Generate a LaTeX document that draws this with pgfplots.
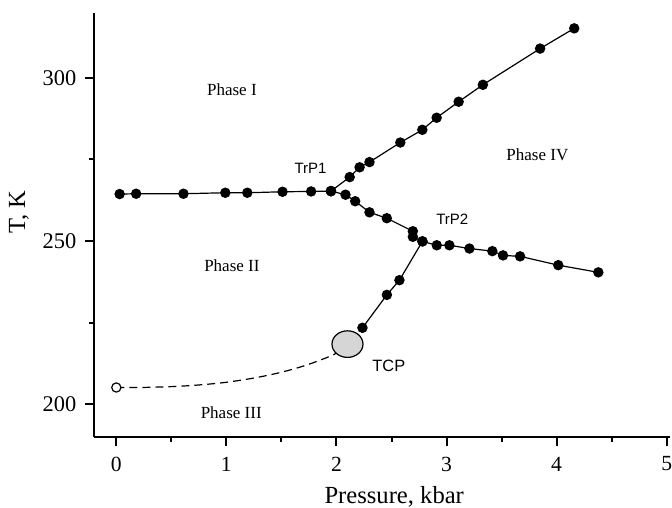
\documentclass[border=0pt]{standalone}
\usepackage{pgfplots}
\pgfplotsset{compat=1.18}
\usepackage{fontspec}
\setmainfont{Liberation Serif}
\newfontfamily\arial{Liberation Sans}

\begin{document}
\begin{tikzpicture}
\begin{axis}[
  scale only axis, width=287.8pt, height=212pt,
  xmin=-0.2, xmax=5.03, ymin=190, ymax=320,
  axis lines=left, axis line style={-, line width=1pt},
  xtick={0,1,2,3,4,5}, ytick={200,250,300},
  xticklabels={0,1,2,3,4,5}, yticklabels={200,250,300},
  minor x tick num=1, minor y tick num=1,
  tick align=outside, major tick length=4.5pt, minor tick length=2.5pt,
  tick style={line width=1pt, black},
  xticklabel style={font=\fontsize{10.8}{13}\selectfont, yshift=-2pt},
  yticklabel style={font=\fontsize{11.2}{13}\selectfont, xshift=-1pt},
  xlabel={Pressure, kbar}, ylabel={T, K},
  label style={font=\fontsize{12.3}{14}\selectfont},
  xlabel style={at={(axis description cs:0.521,-0.158)}, anchor=base},
  ylabel style={at={(axis description cs:-0.131,0.53)}, anchor=center},
]
\coordinate (sw) at (rel axis cs:0,0);
\coordinate (ne) at (rel axis cs:1,1);

% TCP region
\addplot[only marks, mark=*, mark size=6.65pt,
  mark options={fill=black!16, draw=black, line width=0.6pt, xscale=1.165}]
  coordinates {(2.100,218.4)};

% dashed II-III boundary
\addplot[smooth, line width=0.6pt, dash pattern=on 4pt off 2.5pt] coordinates {
  (0,205.1) (0.22,205.1) (0.52,205.4) (0.76,205.9) (1.0,206.7) (1.25,208.0)
  (1.49,209.7) (1.73,212.0) (1.97,215.1) (2.08,217.4)};
\addplot[only marks, mark=*, mark size=2.3pt,
  mark options={fill=white, draw=black, line width=0.6pt}] coordinates {(0,205.1)};

% I-II
\addplot[line width=0.6pt, mark=*, mark size=2.3pt] coordinates {
  (0.03,264.4) (0.18,264.5) (0.61,264.5) (0.99,264.8) (1.19,264.8)
  (1.51,265.1) (1.77,265.2) (1.95,265.3)};
% I-IV
\addplot[line width=0.6pt, mark=*, mark size=2.3pt] coordinates {
  (1.95,265.3) (2.12,269.6) (2.21,272.6) (2.30,274.2) (2.58,280.2)
  (2.78,284.1) (2.91,287.8) (3.11,292.7) (3.33,297.9) (3.85,309.0) (4.16,315.2)};
% II-IV
\addplot[line width=0.6pt, mark=*, mark size=2.3pt] coordinates {
  (1.95,265.3) (2.082,264.2) (2.170,262.2) (2.300,258.8) (2.457,257.0)
  (2.694,253.0) (2.694,251.3) (2.781,249.9) (2.911,248.7) (3.026,248.7)
  (3.208,247.7) (3.416,246.9) (3.513,245.6) (3.668,245.3) (4.015,242.6) (4.379,240.4)};
% III-IV
\addplot[line width=0.6pt, mark=*, mark size=2.3pt] coordinates {
  (2.781,249.9) (2.572,238.0) (2.458,233.5) (2.236,223.4)};

\node[font=\fontsize{8.5}{10}\selectfont] at (axis cs:1.050,296.4) {Phase I};
\node[font=\fontsize{8.5}{10}\selectfont] at (axis cs:1.050,242.4) {Phase II};
\node[font=\fontsize{8.5}{10}\selectfont] at (axis cs:1.044,197.5) {Phase III};
\node[font=\fontsize{8.5}{10}\selectfont] at (axis cs:3.825,276.6) {Phase IV};
\node[font=\arial\fontsize{7.5}{9}\selectfont] at (axis cs:1.764,272.2) {TrP1};
\node[font=\arial\fontsize{7.5}{9}\selectfont] at (axis cs:3.052,256.8) {TrP2};
\node[font=\arial\fontsize{8.2}{10}\selectfont] at (axis cs:2.476,211.8) {TCP};
\end{axis}
\pgfresetboundingbox
\path ([shift={(-47.15pt,-35.15pt)}]sw) rectangle ([shift={(1pt,6.35pt)}]ne);
\end{tikzpicture}
\end{document}
